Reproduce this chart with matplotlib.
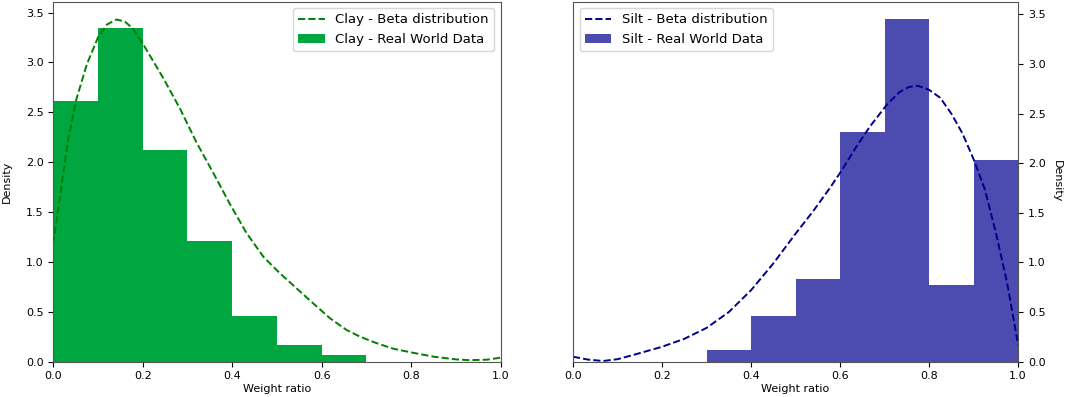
import matplotlib.pyplot as plt
import numpy as np

bin_edges = [0.0, 0.1, 0.2, 0.3, 0.4, 0.5, 0.6, 0.7, 0.8, 0.9, 1.0]

clay_density = [2.61, 3.35, 2.12, 1.21, 0.46, 0.17, 0.07, 0.0, 0.0, 0.0]
silt_density = [0.0, 0.0, 0.0, 0.12, 0.46, 0.83, 2.32, 3.45, 0.77, 2.03]

# beta curves
clay_x = [0.0, 0.014, 0.033, 0.051, 0.075, 0.10, 0.12, 0.141, 0.16, 0.178,
          0.2, 0.245, 0.283, 0.32, 0.358, 0.395, 0.432, 0.47, 0.507, 0.544,
          0.581, 0.619, 0.656, 0.686, 0.72, 0.76, 0.8, 0.85, 0.9, 0.93, 0.97,
          1.0]
clay_y = [1.18, 1.62, 2.22, 2.62, 2.98, 3.25, 3.38, 3.43, 3.41, 3.34,
          3.19, 2.85, 2.54, 2.20, 1.89, 1.58, 1.29, 1.05, 0.885, 0.735,
          0.585, 0.434, 0.317, 0.25, 0.19, 0.13, 0.093, 0.05, 0.023, 0.015,
          0.02, 0.04]

silt_x = [0.0, 0.035, 0.068, 0.1, 0.135, 0.2, 0.25, 0.30, 0.35, 0.4,
          0.45, 0.5, 0.54, 0.577, 0.604, 0.637, 0.667, 0.705, 0.734, 0.755,
          0.776, 0.8, 0.825, 0.85, 0.875, 0.9, 0.925, 0.95, 0.975, 1.0]
silt_y = [0.05, 0.02, 0.007, 0.025, 0.067, 0.15, 0.23, 0.34, 0.5, 0.72,
          0.99, 1.29, 1.52, 1.75, 1.93, 2.17, 2.37, 2.59, 2.72, 2.77,
          2.78, 2.74, 2.66, 2.50, 2.30, 2.04, 1.74, 1.30, 0.80, 0.17]

fig = plt.figure(figsize=(10.65, 3.97), dpi=100)
ax1 = fig.add_axes([0.050, 0.089, 0.420, 0.907])
ax2 = fig.add_axes([0.538, 0.089, 0.418, 0.907])

centers = (np.array(bin_edges[:-1]) + np.array(bin_edges[1:])) / 2

ax1.plot(clay_x, clay_y, '--', color='green', lw=1.4, label='Clay - Beta distribution')
ax1.hist(centers, bins=bin_edges, weights=clay_density, color='#00a640',
         label='Clay - Real World Data')
ax1.set_xlim(0, 1)
ax1.set_ylim(0, 3.61)
ax1.set_xlabel('Weight ratio', fontsize=8, labelpad=2)
ax1.set_ylabel('Density', fontsize=8, labelpad=10)
ax1.tick_params(labelsize=8)
ax1.legend(loc='upper right', fontsize=9.5)

ax2.plot(silt_x, silt_y, '--', color='darkblue', lw=1.4, label='Silt - Beta distribution')
ax2.hist(centers, bins=bin_edges, weights=silt_density, color='#4b4bb0',
         label='Silt - Real World Data')
ax2.set_xlim(0, 1)
ax2.set_ylim(0, 3.63)
ax2.yaxis.tick_right()
ax2.yaxis.set_label_position('right')
ax2.set_xlabel('Weight ratio', fontsize=8, labelpad=2)
ax2.set_ylabel('Density', fontsize=8, rotation=270, labelpad=12)
ax2.tick_params(labelsize=8)
ax2.legend(loc='upper left', fontsize=9.5)

for ax in (ax1, ax2):
    for s in ax.spines.values():
        s.set_color('#555555')

fig.savefig('out.png', dpi=100)
